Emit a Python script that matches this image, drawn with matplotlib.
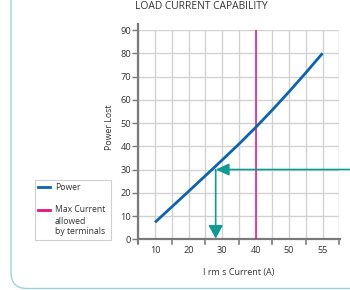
import matplotlib
matplotlib.use("Agg")
import matplotlib.pyplot as plt
from matplotlib.patches import FancyBboxPatch
from matplotlib.lines import Line2D
from matplotlib.transforms import IdentityTransform

plt.rcParams['font.family'] = ['Open Sans', 'DejaVu Sans']

# ---- data (x in grid positions of the chart's current axis) ----
power_pos = [1, 2, 3, 4, 5, 6, 7, 8, 9, 10, 11]
power_lost = [7.3, 13.95, 20.6, 27.3, 34.05, 40.9, 48.05, 55.6, 63.45, 71.6, 80.0]
max_current_pos = 7
xtick_label_pos = [1, 3, 5, 7, 9, 11]
xtick_labels = ['10', '20', '30', '40', '50', '55']
xtick_mark_pos = [0, 2, 4, 6, 8, 10, 12]
yticks = [0, 10, 20, 30, 40, 50, 60, 70, 80, 90]
arrow_pos = 4.62
arrow_level = 30

BLUE = '#0b63b3'
MAGENTA = '#e2147f'
TEAL = '#0f9a92'
GRID = '#d2d2d2'
SPINE = '#7a7a7a'
TXT = '#333333'

fig = plt.figure(figsize=(3.5, 2.9), dpi=100)
ax = fig.add_axes([138.3/350, 1-239.3/290, (339.3-138.3)/350, (239.3-30)/290])
ax.set_xlim(0, 12)
ax.set_ylim(0, 90)
for s in ax.spines.values():
    s.set_visible(False)

# grid
for x in range(0, 13):
    ax.plot([x, x], [0, 90], color=GRID, lw=1.0, zorder=1, solid_capstyle='butt')
for y in yticks:
    ax.plot([0, 12], [y, y], color=GRID, lw=1.0, zorder=1, solid_capstyle='butt')

# spines (manual, extended a little)
ax.plot([0, 0], [-1.8, 92.5], color=SPINE, lw=1.6, clip_on=False, zorder=3)
ax.plot([0, 12.05], [0, 0], color=SPINE, lw=1.6, clip_on=False, zorder=3)

# ticks
ax.set_yticks(yticks)
ax.set_yticklabels([str(v) for v in yticks])
ax.tick_params(axis='y', direction='out', length=4, width=1, color=SPINE,
               labelsize=6.7, labelcolor=TXT, pad=1)
ax.set_xticks(xtick_label_pos)
ax.set_xticklabels(xtick_labels)
ax.tick_params(axis='x', length=0, labelsize=6.6, labelcolor=TXT, pad=5)
for xm in xtick_mark_pos:
    ax.plot([xm, xm], [0, -2.2], color=SPINE, lw=1.2, clip_on=False, zorder=3)

# data
ax.plot(power_pos, power_lost, color=BLUE, lw=2.0, zorder=5, solid_capstyle='butt')
ax.plot([max_current_pos, max_current_pos], [0, 90], color=MAGENTA, lw=1.1, zorder=4)

# teal arrows
ax.annotate('', xy=(arrow_pos, arrow_level), xytext=(13.5, arrow_level),
            arrowprops=dict(arrowstyle='-|>,head_length=8,head_width=3.6',
                            mutation_scale=1, color=TEAL, lw=1.2,
                            shrinkA=0, shrinkB=0),
            annotation_clip=False, zorder=6)
ax.annotate('', xy=(arrow_pos, 0.3), xytext=(arrow_pos, arrow_level),
            arrowprops=dict(arrowstyle='-|>,head_length=8,head_width=4.4',
                            mutation_scale=1, color=TEAL, lw=1.2,
                            shrinkA=0, shrinkB=0),
            annotation_clip=False, zorder=6)

# labels
fig.text(201/350, 1-6.5/290, 'LOAD CURRENT CAPABILITY', ha='center', va='center',
         fontsize=7.4, color=TXT)
fig.text(109/350, 1-127/290, 'Power Lost', rotation=90, ha='center', va='center',
         fontsize=6.3, color=TXT)
fig.text(239/350, 1-272/290, 'I rm s Current (A)', ha='center', va='center',
         fontsize=6.5, color=TXT)

# outer rounded border
border = FancyBboxPatch((11, 1.5), 400, 400, boxstyle='round,pad=0,rounding_size=16',
                        transform=IdentityTransform(), fill=False,
                        edgecolor='#9dd3d5', lw=1.0)
fig.patches.append(border)

# legend (manual)
lg = FancyBboxPatch((34.5, 290-240), 76.5, 60, boxstyle='square,pad=0',
                    transform=IdentityTransform(), fill=True, facecolor='white',
                    edgecolor='#cfcfcf', lw=0.8)
fig.patches.append(lg)
fig.lines.append(Line2D([38/350, 50/350], [1-187/290, 1-187/290], color=BLUE, lw=2.0,
                        transform=fig.transFigure))
fig.lines.append(Line2D([38/350, 50/350], [1-210/290, 1-210/290], color=MAGENTA, lw=2.0,
                        transform=fig.transFigure))
fig.text(55/350, 1-187/290, 'Power', ha='left', va='center', fontsize=6.2, color=TXT)
fig.text(55/350, 1-210/290, 'Max Current', ha='left', va='center', fontsize=6.2, color=TXT)
fig.text(55/350, 1-221/290, 'allowed', ha='left', va='center', fontsize=6.2, color=TXT)
fig.text(55/350, 1-232/290, 'by terminals', ha='left', va='center', fontsize=6.2, color=TXT)

fig.savefig('out.png', dpi=100)
